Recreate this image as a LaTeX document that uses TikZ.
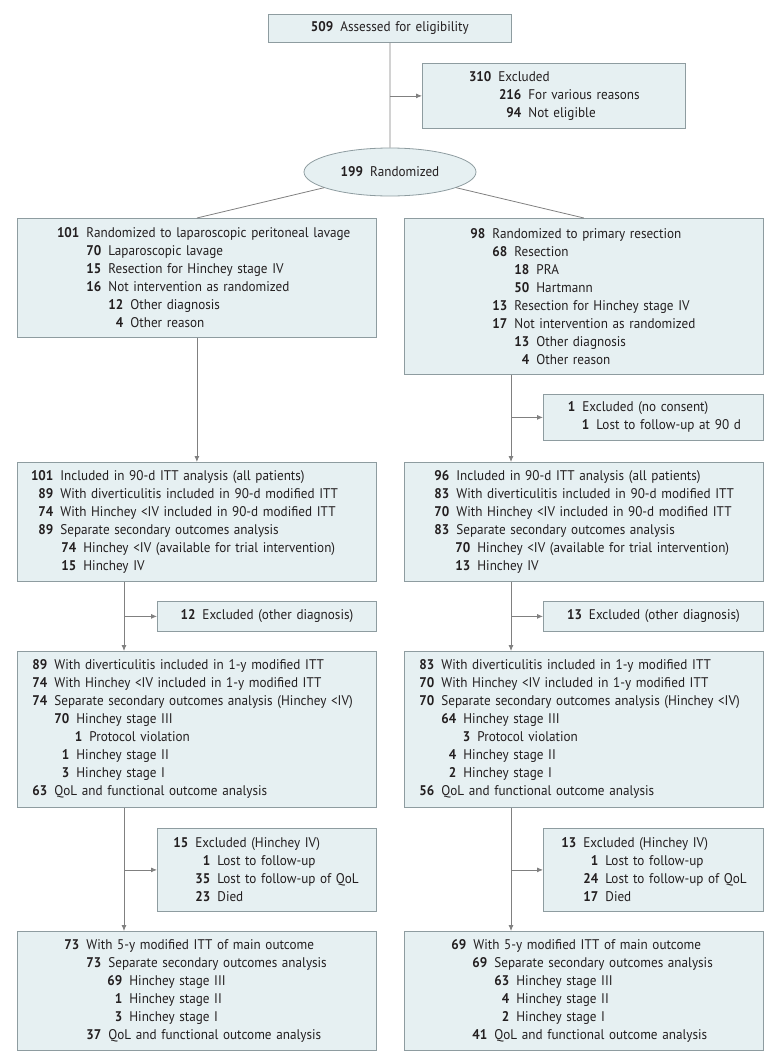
\documentclass[tikz,border=0pt]{standalone}
\usepackage{fontspec}
\setmainfont{PT Sans}[FakeStretch=0.94]
\usetikzlibrary{shapes.geometric,arrows.meta}
\definecolor{boxfill}{HTML}{E6F0F2}
\definecolor{boxline}{HTML}{8E9CA0}
\definecolor{conn}{HTML}{808080}
\definecolor{txt}{HTML}{231F20}
\newcommand{\rowx}[3]{\makebox[#1pt][r]{\textbf{#2}\hspace{7pt}}#3}
\begin{document}
\begin{tikzpicture}[x=1pt,y=-1pt,
  box/.style={draw=boxline, fill=boxfill, line width=0.8pt, inner sep=0pt,
    anchor=north west, align=left, text=txt,
    font=\fontsize{14}{18}\selectfont},
  cbox/.style={box, align=center},
  conn/.style={draw=conn, line width=0.8pt},
  arr/.style={conn, -{Latex[length=6pt,width=5pt]}}]
\useasboundingbox (0,0) rectangle (780,1063);
% top
\node[cbox, minimum width=243pt, text width=243pt, minimum height=28pt] (T) at (268,14)
  {\textbf{509}\hspace{7pt}Assessed for eligibility};
\node[box, minimum width=263pt, text width=263pt, minimum height=65pt] (X0) at (422,63)
  {\rowx{76}{310}{Excluded}\\ \rowx{106}{216}{For various reasons}\\ \rowx{106}{94}{Not eligible}};
\node[ellipse, draw=boxline, fill=boxfill, line width=0.8pt, minimum width=172pt,
  minimum height=48pt, inner sep=0pt, text=txt, font=\fontsize{14}{18}\selectfont] (E) at (390,172)
  {\textbf{199}\hspace{7pt}Randomized};
% row 1
\node[box, minimum width=359pt, text width=359pt, minimum height=119pt] (L1) at (17,218)
  {\rowx{69}{101}{Randomized to laparoscopic peritoneal lavage}\\
   \rowx{91}{70}{Laparoscopic lavage}\\
   \rowx{91}{15}{Resection for Hinchey stage IV}\\
   \rowx{91}{16}{Not intervention as randomized}\\
   \rowx{113}{12}{Other diagnosis}\\
   \rowx{113}{4}{Other reason}};
\node[box, minimum width=359pt, text width=359pt, minimum height=156pt] (R1) at (404,218)
  {\rowx{88}{98}{Randomized to primary resection}\\
   \rowx{110}{68}{Resection}\\
   \rowx{132}{18}{PRA}\\
   \rowx{132}{50}{Hartmann}\\
   \rowx{110}{13}{Resection for Hinchey stage IV}\\
   \rowx{110}{17}{Not intervention as randomized}\\
   \rowx{132}{13}{Other diagnosis}\\
   \rowx{132}{4}{Other reason}};
\node[box, minimum width=220pt, text width=220pt, minimum height=46pt] (XR1) at (543,394)
  {\rowx{39}{1}{Excluded (no consent)}\\ \rowx{53}{1}{Lost to follow-up at 90 d}};
% row 2
\node[box, minimum width=359pt, text width=359pt, minimum height=119pt] (L2) at (17,462)
  {\rowx{43}{101}{Included in 90-d ITT analysis (all patients)}\\
   \rowx{43}{89}{With diverticulitis included in 90-d modified ITT}\\
   \rowx{43}{74}{With Hinchey <IV included in 90-d modified ITT}\\
   \rowx{43}{89}{Separate secondary outcomes analysis}\\
   \rowx{66}{74}{Hinchey <IV (available for trial intervention)}\\
   \rowx{66}{15}{Hinchey IV}};
\node[box, minimum width=359pt, text width=359pt, minimum height=119pt] (R2) at (404,462)
  {\rowx{52}{96}{Included in 90-d ITT analysis (all patients)}\\
   \rowx{52}{83}{With diverticulitis included in 90-d modified ITT}\\
   \rowx{52}{70}{With Hinchey <IV included in 90-d modified ITT}\\
   \rowx{52}{83}{Separate secondary outcomes analysis}\\
   \rowx{73}{70}{Hinchey <IV (available for trial intervention)}\\
   \rowx{73}{13}{Hinchey IV}};
\node[cbox, minimum width=219pt, text width=219pt, minimum height=30pt] (EL2) at (157,601)
  {\textbf{12}\hspace{7pt}Excluded (other diagnosis)};
\node[cbox, minimum width=220pt, text width=220pt, minimum height=30pt] (ER2) at (543,601)
  {\textbf{13}\hspace{7pt}Excluded (other diagnosis)};
% row 3
\node[box, minimum width=359pt, text width=359pt, minimum height=156pt] (L3) at (17,651)
  {\rowx{37}{89}{With diverticulitis included in 1-y modified ITT}\\
   \rowx{37}{74}{With Hinchey <IV included in 1-y modified ITT}\\
   \rowx{37}{74}{Separate secondary outcomes analysis (Hinchey <IV)}\\
   \rowx{59}{70}{Hinchey stage III}\\
   \rowx{72}{1}{Protocol violation}\\
   \rowx{59}{1}{Hinchey stage II}\\
   \rowx{59}{3}{Hinchey stage I}\\
   \rowx{37}{63}{QoL and functional outcome analysis}};
\node[box, minimum width=359pt, text width=359pt, minimum height=156pt] (R3) at (404,651)
  {\rowx{37}{83}{With diverticulitis included in 1-y modified ITT}\\
   \rowx{37}{70}{With Hinchey <IV included in 1-y modified ITT}\\
   \rowx{37}{70}{Separate secondary outcomes analysis (Hinchey <IV)}\\
   \rowx{59}{64}{Hinchey stage III}\\
   \rowx{73}{3}{Protocol violation}\\
   \rowx{59}{4}{Hinchey stage II}\\
   \rowx{59}{2}{Hinchey stage I}\\
   \rowx{37}{56}{QoL and functional outcome analysis}};
\node[box, minimum width=219pt, text width=219pt, minimum height=83pt] (EL3) at (157,828)
  {\rowx{38}{15}{Excluded (Hinchey IV)}\\
   \rowx{60}{1}{Lost to follow-up}\\
   \rowx{60}{35}{Lost to follow-up of QoL}\\
   \rowx{60}{23}{Died}};
\node[box, minimum width=220pt, text width=220pt, minimum height=83pt] (ER3) at (543,828)
  {\rowx{40}{13}{Excluded (Hinchey IV)}\\
   \rowx{62}{1}{Lost to follow-up}\\
   \rowx{62}{24}{Lost to follow-up of QoL}\\
   \rowx{62}{17}{Died}};
% row 4
\node[box, minimum width=359pt, text width=359pt, minimum height=119pt] (L4) at (17,931)
  {\rowx{69}{73}{With 5-y modified ITT of main outcome}\\
   \rowx{91}{73}{Separate secondary outcomes analysis}\\
   \rowx{112}{69}{Hinchey stage III}\\
   \rowx{112}{1}{Hinchey stage II}\\
   \rowx{112}{3}{Hinchey stage I}\\
   \rowx{91}{37}{QoL and functional outcome analysis}};
\node[box, minimum width=359pt, text width=359pt, minimum height=119pt] (R4) at (404,931)
  {\rowx{69}{69}{With 5-y modified ITT of main outcome}\\
   \rowx{90}{69}{Separate secondary outcomes analysis}\\
   \rowx{112}{63}{Hinchey stage III}\\
   \rowx{112}{4}{Hinchey stage II}\\
   \rowx{112}{2}{Hinchey stage I}\\
   \rowx{90}{41}{QoL and functional outcome analysis}};
% connectors
\coordinate (cl) at (124,0);
\coordinate (cr) at (511,0);
\draw[conn] (T.south) -- (E.north);
\draw[arr] (X0.west -| T.south) -- (X0.west);
\draw[conn] (E) -- (L1.north);
\draw[conn] (E) -- (R1.north);
\draw[arr] (L1.south) -- (L2.north);
\draw[arr] (R1.south -| cr) -- (R2.north -| cr);
\draw[arr] (XR1.west -| cr) -- (XR1.west);
\draw[arr] (L2.south -| cl) -- (L3.north -| cl);
\draw[arr] (EL2.west -| cl) -- (EL2.west);
\draw[arr] (R2.south -| cr) -- (R3.north -| cr);
\draw[arr] (ER2.west -| cr) -- (ER2.west);
\draw[arr] (L3.south -| cl) -- (L4.north -| cl);
\draw[arr] (EL3.west -| cl) -- (EL3.west);
\draw[arr] (R3.south -| cr) -- (R4.north -| cr);
\draw[arr] (ER3.west -| cr) -- (ER3.west);
\end{tikzpicture}
\end{document}
